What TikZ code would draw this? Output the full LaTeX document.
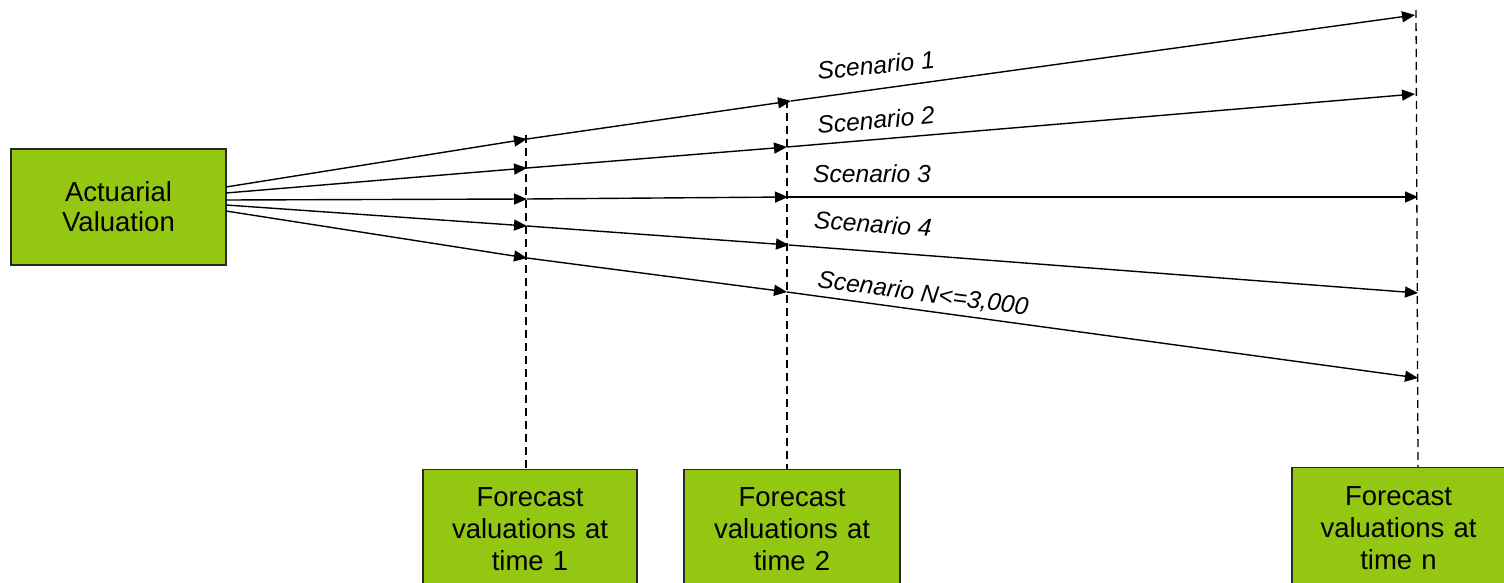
\documentclass[tikz,border=0pt]{standalone}
\usepackage{fontspec}
\setmainfont{Liberation Sans}
\usetikzlibrary{arrows.meta}
\definecolor{boxgreen}{RGB}{148,199,18}
\definecolor{boxedge}{RGB}{40,40,40}
\tikzset{
  greenbox/.style={draw=boxedge, line width=0.6pt, fill=boxgreen, align=center, inner sep=0pt},
  flow/.style={line width=0.7pt, -{Triangle[length=6.5pt,width=5.5pt]}},
  timeline/.style={line width=0.65pt, dash pattern=on 4pt off 2.5pt},
  scen/.style={inner sep=0pt, font=\fontsize{12.3}{14}\selectfont\itshape},
  boxtext/.style={font=\fontsize{13.75}{16}\selectfont}
}
\begin{document}
\begin{tikzpicture}[x=0.5pt,y=-0.5pt]
\clip (0,0) rectangle (1504,583);
\useasboundingbox (0,0) rectangle (1504,583);

% boxes
\node[greenbox, boxtext, minimum width=107.5pt, minimum height=58pt, text width=100pt, font=\fontsize{13.75}{15}\selectfont] (av) at (118.5,207) {Actuarial\\Valuation};
\node[greenbox, boxtext, minimum width=107pt, minimum height=60pt, text width=100pt, anchor=north] (f1) at (530,469) {Forecast\\valuations at\\time 1};
\node[greenbox, boxtext, minimum width=108pt, minimum height=60pt, text width=100pt, anchor=north] (f2) at (792,469) {Forecast\\valuations at\\time 2};
\node[greenbox, boxtext, minimum width=106.5pt, minimum height=61pt, text width=100pt, anchor=north] (f3) at (1398.5,467) {Forecast\\valuations at\\time n};

% timeline tops
\coordinate (t1) at (526,135);
\coordinate (t2) at (787,100);
\coordinate (t3) at (1416,10);
\draw[timeline] (t1) -- (t1 |- f1.north);
\draw[timeline] (t2) -- (t2 |- f2.north);
\draw[timeline] (t3) -- (1418,467);

% start points on the valuation box
\coordinate (s1) at (226,187);
\coordinate (s2) at (226,193);
\coordinate (s3) at (226,200);
\coordinate (s4) at (226,205);
\coordinate (s5) at (226,211);

% points at time 1
\coordinate (a1) at (527,139);
\coordinate (a2) at (527,168);
\coordinate (a3) at (527,199);
\coordinate (a4) at (527,226);
\coordinate (a5) at (527,258);

% points at time 2
\coordinate (b1) at (791,101);
\coordinate (b2) at (787,147);
\coordinate (b3) at (788,197);
\coordinate (b4) at (789,245);
\coordinate (b5) at (787,292);

% points at time n
\coordinate (c1) at (1415,15);
\coordinate (c2) at (1415,94);
\coordinate (c3) at (1418,197);
\coordinate (c4) at (1418,293);
\coordinate (c5) at (1418,378);

\foreach \i in {1,...,5}{
  \draw[flow] (s\i) -- (a\i);
  \draw[flow] (a\i) -- (b\i);
  \draw[flow] (b\i) -- (c\i);
}

% scenario labels
\node[scen, rotate=6]  (l1) at (876,65)  {Scenario 1};
\node[scen, rotate=5]  (l2) at (876,120) {Scenario 2};
\node[scen]            (l3) at (872,174) {Scenario 3};
\node[scen, rotate=-4] (l4) at (873,224) {Scenario 4};
\node[scen, rotate=-7.5] (l5) at (923,294) {Scenario N<=3,000};
\end{tikzpicture}
\end{document}
